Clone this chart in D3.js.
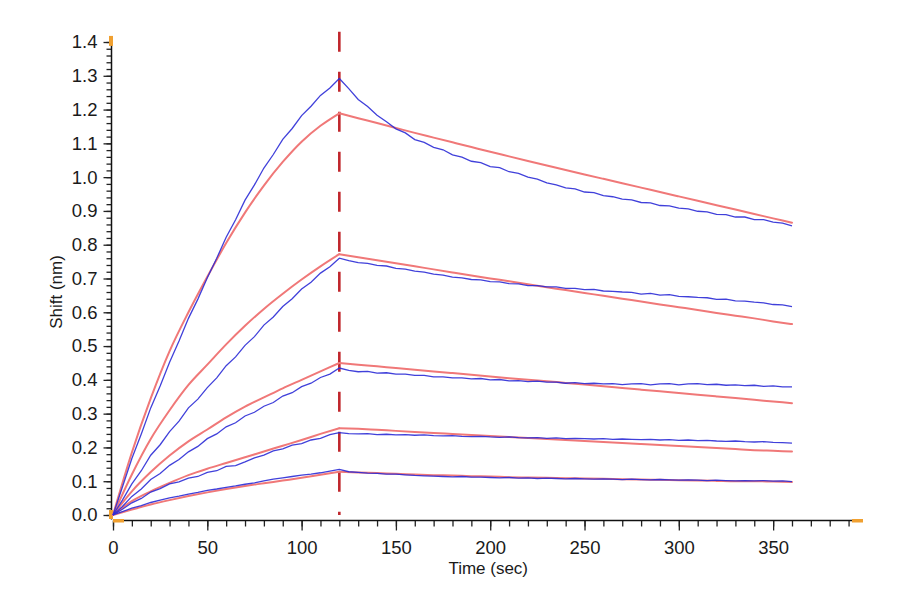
<!DOCTYPE html>
<html>
<head>
<meta charset="utf-8">
<script src="https://cdn.jsdelivr.net/npm/d3@7"></script>
<style>
    body { margin: 0; background: #fff; }
    svg text { font-family: 'Liberation Sans', Arial, sans-serif; fill: #1a1a1a; }
</style>
</head>
<body>
<div id="chart"></div>
<script>
// Sensorgram: association 0-120 s, dissociation 120-360 s
const injectionEnd = 120
const xTickLabels = [0, 50, 100, 150, 200, 250, 300, 350]
const yTickLabels = [0, 0.1, 0.2, 0.3, 0.4, 0.5, 0.6, 0.7, 0.8, 0.9, 1.0, 1.1, 1.2, 1.3, 1.4]

// fitted curves, one value every 10 s from 0 to 360
const fitTime = d3.range(0, 361, 10)
const fit1 = [0, 0.185, 0.345, 0.485, 0.600, 0.705, 0.805, 0.895, 0.975, 1.045, 1.105, 1.152, 1.189,
    1.1745, 1.160, 1.1455, 1.131, 1.117, 1.103, 1.089, 1.075, 1.0615, 1.048, 1.0345, 1.021,
    1.008, 0.995, 0.982, 0.969, 0.956, 0.943, 0.930, 0.917, 0.904, 0.891, 0.878, 0.865]
const fit2 = [0, 0.120, 0.225, 0.310, 0.385, 0.445, 0.505, 0.560, 0.610, 0.655, 0.697, 0.736, 0.772,
    0.763, 0.754, 0.745, 0.736, 0.727, 0.718, 0.709, 0.700, 0.692, 0.683, 0.674, 0.666,
    0.657, 0.649, 0.640, 0.632, 0.623, 0.615, 0.607, 0.598, 0.590, 0.582, 0.573, 0.565]
const fit3 = [0, 0.070, 0.127, 0.176, 0.218, 0.253, 0.289, 0.321, 0.348, 0.375, 0.400, 0.425, 0.450,
    0.445, 0.440, 0.435, 0.430, 0.425, 0.420, 0.415, 0.410, 0.405, 0.400, 0.396, 0.391,
    0.386, 0.381, 0.376, 0.371, 0.366, 0.361, 0.356, 0.351, 0.346, 0.341, 0.336, 0.331]
const fit4 = [0, 0.041, 0.070, 0.095, 0.118, 0.137, 0.154, 0.171, 0.188, 0.205, 0.222, 0.240, 0.257,
    0.255, 0.252, 0.249, 0.246, 0.243, 0.240, 0.237, 0.234, 0.231, 0.228, 0.225, 0.222,
    0.219, 0.216, 0.213, 0.210, 0.207, 0.204, 0.201, 0.198, 0.195, 0.192, 0.190, 0.188]
const fit5 = [0, 0.016, 0.031, 0.044, 0.056, 0.067, 0.077, 0.086, 0.094, 0.102, 0.110, 0.119, 0.128,
    0.126, 0.124, 0.122, 0.120, 0.118, 0.117, 0.115, 0.114, 0.112, 0.111, 0.110, 0.109,
    0.108, 0.107, 0.106, 0.105, 0.104, 0.103, 0.102, 0.101, 0.100, 0.100, 0.099, 0.098]

// measured traces, one value every 5 s from 0 to 360
const rawTime = d3.range(0, 361, 5)
const raw1 = [0, 0.083, 0.167, 0.240, 0.317, 0.382, 0.452, 0.515, 0.582, 0.639, 0.702, 0.760, 0.822,
    0.874, 0.932, 0.977, 1.027, 1.067, 1.112, 1.144, 1.182, 1.210, 1.242, 1.264, 1.292,
    1.262, 1.230, 1.209, 1.183, 1.164, 1.143, 1.131, 1.111, 1.103, 1.088, 1.081, 1.066,
    1.059, 1.047, 1.043, 1.031, 1.028, 1.016, 1.011, 1.000, 0.994, 0.983, 0.977, 0.968,
    0.965, 0.956, 0.954, 0.945, 0.942, 0.935, 0.933, 0.925, 0.924, 0.916, 0.915, 0.908,
    0.906, 0.899, 0.897, 0.890, 0.889, 0.882, 0.882, 0.874, 0.874, 0.867, 0.864, 0.856]
const raw2 = [0, 0.044, 0.092, 0.131, 0.177, 0.208, 0.247, 0.278, 0.317, 0.343, 0.377, 0.406, 0.442,
    0.468, 0.502, 0.528, 0.562, 0.586, 0.617, 0.640, 0.669, 0.689, 0.716, 0.735, 0.760,
    0.753, 0.747, 0.745, 0.739, 0.737, 0.730, 0.728, 0.722, 0.719, 0.713, 0.710, 0.704,
    0.702, 0.697, 0.696, 0.691, 0.690, 0.685, 0.684, 0.679, 0.679, 0.675, 0.675, 0.671,
    0.671, 0.667, 0.668, 0.663, 0.662, 0.660, 0.659, 0.654, 0.656, 0.651, 0.652, 0.647,
    0.646, 0.644, 0.643, 0.638, 0.639, 0.634, 0.633, 0.630, 0.628, 0.623, 0.622, 0.617]
const raw3 = [0, 0.025, 0.055, 0.077, 0.105, 0.123, 0.147, 0.164, 0.187, 0.203, 0.226, 0.240, 0.261,
    0.273, 0.293, 0.304, 0.322, 0.333, 0.352, 0.362, 0.380, 0.390, 0.407, 0.417, 0.435,
    0.428, 0.424, 0.425, 0.420, 0.421, 0.417, 0.417, 0.413, 0.413, 0.409, 0.409, 0.406,
    0.406, 0.403, 0.404, 0.400, 0.401, 0.397, 0.398, 0.395, 0.396, 0.393, 0.393, 0.390,
    0.392, 0.389, 0.390, 0.388, 0.389, 0.386, 0.388, 0.389, 0.385, 0.388, 0.389, 0.385,
    0.388, 0.389, 0.386, 0.387, 0.384, 0.385, 0.383, 0.384, 0.381, 0.382, 0.379, 0.379]
const raw4 = [0, 0.017, 0.036, 0.049, 0.068, 0.078, 0.092, 0.098, 0.109, 0.114, 0.126, 0.131, 0.144,
    0.146, 0.157, 0.169, 0.177, 0.190, 0.196, 0.207, 0.211, 0.222, 0.227, 0.238, 0.244,
    0.241, 0.240, 0.241, 0.238, 0.239, 0.237, 0.238, 0.236, 0.237, 0.235, 0.234, 0.235,
    0.233, 0.232, 0.233, 0.231, 0.230, 0.231, 0.229, 0.228, 0.229, 0.227, 0.228, 0.226,
    0.227, 0.226, 0.225, 0.226, 0.224, 0.225, 0.224, 0.223, 0.224, 0.222, 0.223, 0.221,
    0.222, 0.220, 0.221, 0.219, 0.218, 0.219, 0.217, 0.216, 0.217, 0.215, 0.214, 0.213]
const raw5 = [0, 0.010, 0.020, 0.028, 0.037, 0.044, 0.051, 0.056, 0.062, 0.067, 0.073, 0.077, 0.082,
    0.086, 0.091, 0.095, 0.101, 0.106, 0.110, 0.114, 0.118, 0.121, 0.125, 0.130, 0.135,
    0.128, 0.126, 0.124, 0.123, 0.121, 0.121, 0.119, 0.117, 0.116, 0.115, 0.114, 0.113,
    0.114, 0.112, 0.112, 0.111, 0.110, 0.111, 0.109, 0.110, 0.108, 0.109, 0.108, 0.107,
    0.108, 0.107, 0.106, 0.107, 0.106, 0.105, 0.106, 0.105, 0.104, 0.105, 0.104, 0.103,
    0.104, 0.103, 0.102, 0.103, 0.102, 0.101, 0.102, 0.101, 0.102, 0.100, 0.101, 0.099]

const fits = [fit1, fit2, fit3, fit4, fit5]
const raws = [raw1, raw2, raw3, raw4, raw5]

const width = 900
const height = 600

const svg = d3.select('#chart')
    .append('svg')
    .attr('width', width)
    .attr('height', height)

// Scales - axis runs a bit past the last sample
const x = d3.scaleLinear().domain([0, 395]).range([113, 858])
const y = d3.scaleLinear().domain([0, 1.4]).range([515, 42])
const yAxisX = 111.5
const xAxisY = 520.5

// x axis: minor ticks every 10, major every 50
const xAxis = svg.append('g').attr('transform', `translate(0,${xAxisY})`)
xAxis.append('g')
    .call(d3.axisBottom(x).tickValues(d3.range(0, 391, 10)).tickSize(6).tickFormat(''))
xAxis.append('g')
    .call(d3.axisBottom(x).tickValues(xTickLabels).tickSize(10).tickPadding(10).tickFormat(d3.format('d')))
xAxis.selectAll('.domain').remove()
xAxis.append('line')
    .attr('x1', x(0)).attr('x2', x(395))
    .attr('stroke', '#111').attr('stroke-width', 1.5)

// y axis: minor ticks every 0.02, major every 0.1
const yAxis = svg.append('g').attr('transform', `translate(${yAxisX},0)`)
yAxis.append('g')
    .call(d3.axisLeft(y).tickValues(d3.range(0, 71).map(i => i * 0.02)).tickSize(5).tickFormat(''))
yAxis.append('g')
    .call(d3.axisLeft(y).tickValues(yTickLabels).tickSize(8).tickPadding(6).tickFormat(d3.format('.1f')))
yAxis.selectAll('.domain').remove()
yAxis.append('line')
    .attr('y1', y(1.418)).attr('y2', xAxisY - 1)
    .attr('stroke', '#111').attr('stroke-width', 1.5)

svg.selectAll('.tick line').attr('stroke', '#222').attr('stroke-width', 1.3)
svg.selectAll('.tick text').style('font-size', '18.5px')

// orange range handles at the axis ends
const handle = '#f0a030'
yAxis.append('rect').attr('x', -2.5).attr('y', y(1.418)).attr('width', 4).attr('height', 10).attr('fill', handle)
yAxis.append('rect').attr('x', -2.5).attr('y', y(0) - 5).attr('width', 4).attr('height', 9).attr('fill', handle)
xAxis.append('rect').attr('x', x(0)).attr('y', -1.5).attr('width', 11).attr('height', 3.5).attr('fill', handle)
xAxis.append('rect').attr('x', x(395) - 6).attr('y', -1.5).attr('width', 11).attr('height', 3.5).attr('fill', handle)

// axis titles
svg.append('text')
    .attr('x', x(200) - 2)
    .attr('y', 574)
    .attr('text-anchor', 'middle')
    .style('font-size', '17px')
    .text('Time (sec)')
svg.append('text')
    .attr('transform', `translate(62,${y(0.66)}) rotate(-90)`)
    .attr('text-anchor', 'middle')
    .style('font-size', '17px')
    .text('Shift (nm)')

// end of association
svg.append('line')
    .attr('x1', x(injectionEnd)).attr('x2', x(injectionEnd))
    .attr('y1', y(1.43)).attr('y2', y(0))
    .attr('stroke', '#c0262c')
    .attr('stroke-width', 2.6)
    .attr('stroke-dasharray', '20,20')

// fits are smooth within each phase, with a sharp corner at the injection end
const fitLine = d3.line()
    .x(d => x(d[0]))
    .y(d => y(d[1]))
    .curve(d3.curveMonotoneX)
const rawLine = d3.line()
    .x((d, i) => x(rawTime[i]))
    .y(d => y(d))

const fitPhases = fits.flatMap(f => {
    let pts = f.map((v, i) => [fitTime[i], v])
    return [pts.filter(p => p[0] <= injectionEnd), pts.filter(p => p[0] >= injectionEnd)]
})

svg.append('g').selectAll('path')
    .data(fitPhases)
    .enter()
    .append('path')
    .attr('d', fitLine)
    .attr('fill', 'none')
    .attr('stroke', '#f07878')
    .attr('stroke-width', 2)
    .attr('stroke-linecap', 'round')

svg.append('g').selectAll('path')
    .data(raws)
    .enter()
    .append('path')
    .attr('d', rawLine)
    .attr('fill', 'none')
    .attr('stroke', '#2b2bd6')
    .attr('stroke-width', 1.3)
    .attr('stroke-opacity', 0.9)
</script>
</body>
</html>
